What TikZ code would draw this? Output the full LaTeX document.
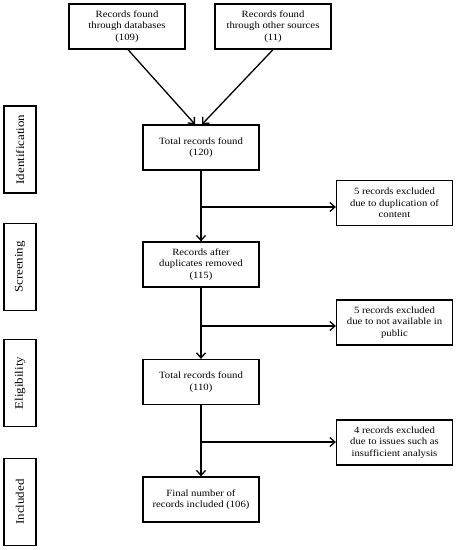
\documentclass[tikz,border=0pt]{standalone}
\usepackage{fontspec}
\setmainfont[FakeStretch=1.12]{Liberation Serif}
\usetikzlibrary{arrows.meta}
\begin{document}
\begin{tikzpicture}[x=1bp,y=-1bp,
  box/.style={draw, line width=1.3bp, minimum width=116bp, minimum height=45bp, inner sep=1bp, align=center, font=\fontsize{9.6}{11.4}\selectfont},
  side/.style={draw, line width=1.3bp, minimum width=87bp, minimum height=32bp, inner sep=1bp, rotate=90, font=\fontsize{11.6}{13}\selectfont},
  arr/.style={line width=1.3bp, -{Straight Barb[length=5bp,width=9bp,line width=1.3bp]}}]
\useasboundingbox (0,0) rectangle (457,550);
\node[box] (db) at (127,26.5) {Records found\\through databases\\(109)};
\node[box] (other) at (273,26.5) {Records found\\through other sources\\(11)};
\node[box] (total) at (201,147.5) {Total records found\\(120)};
\node[box] (ex1) at (394.5,203) {5 records excluded\\due to duplication of\\content};
\node[box] (after) at (201,264.5) {Records after\\duplicates removed\\(115)};
\node[box] (ex2) at (394.5,322.5) {5 records excluded\\due to not available in\\public};
\node[box] (t110) at (201,382) {Total records found\\(110)};
\node[box] (ex3) at (394.5,442.5) {4 records excluded\\due to issues such as\\insufficient analysis};
\node[box] (final) at (201,499.5) {Final number of\\records included (106)};
\node[side] (s1) at (20,149.5) {Identification};
\node[side] (s2) at (20,267) {Screening};
\node[side] (s3) at (20,383) {Eligibility};
\node[side] (s4) at (20,502) {Included};
\coordinate (b1) at (201,207);
\coordinate (b2) at (201,326);
\coordinate (b3) at (201,442);
\draw[arr] ([xshift=1bp]db.south) -- ([xshift=-6bp]total.north);
\draw[arr] (other.south) -- ([xshift=1bp]total.north);
\draw[arr] (total.south) -- (after.north);
\draw[arr] (b1) -- (b1 -| ex1.west);
\draw[arr] (after.south) -- (t110.north);
\draw[arr] (b2) -- (ex2.west |- b2);
\draw[arr] (t110.south) -- (final.north);
\draw[arr] (b3) -- (b3 -| ex3.west);
\end{tikzpicture}
\end{document}
